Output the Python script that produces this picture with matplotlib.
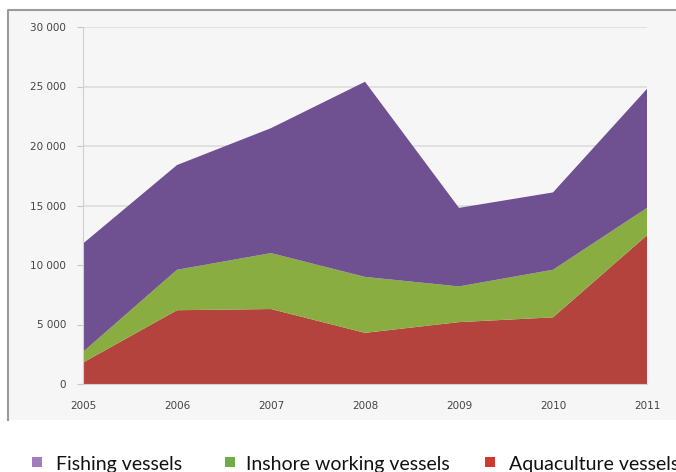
import matplotlib.pyplot as plt
from matplotlib.patches import Rectangle
from matplotlib.ticker import FuncFormatter

years = ["2005", "2006", "2007", "2008", "2009", "2010", "2011"]
aquaculture = [1800, 6200, 6300, 4300, 5200, 5600, 12500]
inshore = [900, 3400, 4700, 4700, 3000, 4000, 2300]
fishing = [9100, 8800, 10500, 16400, 6600, 6500, 10000]

series_labels = ["Fishing vessels", "Inshore working vessels", "Aquaculture vessels"]
area_colors = ["#b5433d", "#8aad42", "#6f5192"]
legend_colors = ["#a47bbd", "#70ad47", "#d03a2c"]

W, H = 676, 472
fig = plt.figure(figsize=(W / 100, H / 100), dpi=100)

# grey chart panel behind the plot (left and top edges outlined)
fig.add_artist(Rectangle((8 / W, 1 - 420 / H), 1 - 8 / W, (420 - 10) / H,
                         transform=fig.transFigure, facecolor="#f6f6f6",
                         edgecolor="none", zorder=-5))
fig.add_artist(plt.Line2D([8 / W, 8 / W, 1], [1 - 420 / H, 1 - 10 / H, 1 - 10 / H],
                          transform=fig.transFigure, color="#9a9a9a", linewidth=1.5, zorder=-4))

ax = fig.add_axes([83 / W, 1 - 384 / H, (647 - 83) / W, (384 - 27) / H])
ax.set_facecolor("#f6f6f6")
x = list(range(len(years)))
ax.stackplot(x, aquaculture, inshore, fishing, colors=area_colors, zorder=2)

ax.set_xlim(0, len(years) - 1)
ax.set_ylim(0, 30000)
ax.set_yticks(range(0, 30001, 5000))
ax.yaxis.set_major_formatter(FuncFormatter(lambda v, p: f"{int(v):,}".replace(",", " ")))
ax.set_xticks(x)
ax.set_xticklabels(years)
ax.grid(axis="y", color="#dcdcdc", linewidth=1.2, zorder=1)
for s in ["top", "right"]:
    ax.spines[s].set_visible(False)
ax.spines["left"].set_color("#d0d0d0")
ax.spines["bottom"].set_color("#d0d0d0")
ax.tick_params(axis="y", length=4, color="#c8c8c8", labelsize=7.5, labelcolor="#444444", pad=8)
ax.tick_params(axis="x", length=0, labelsize=7.5, labelcolor="#444444", pad=12)

# legend below the chart panel
marker_x = [37, 230, 490]
text_x = [56, 246, 509]
for mx, tx, label, c in zip(marker_x, text_x, series_labels, legend_colors):
    fig.add_artist(Rectangle(((mx - 5) / W, 1 - 467 / H), 10 / W, 10 / H,
                             transform=fig.transFigure, facecolor=c, edgecolor="none"))
    fig.text(tx / W, 1 - 470 / H, label, fontsize=14,
             family=["Lato", "DejaVu Sans"], va="baseline", ha="left", color="#111111")

fig.savefig("out.png", dpi=100)
